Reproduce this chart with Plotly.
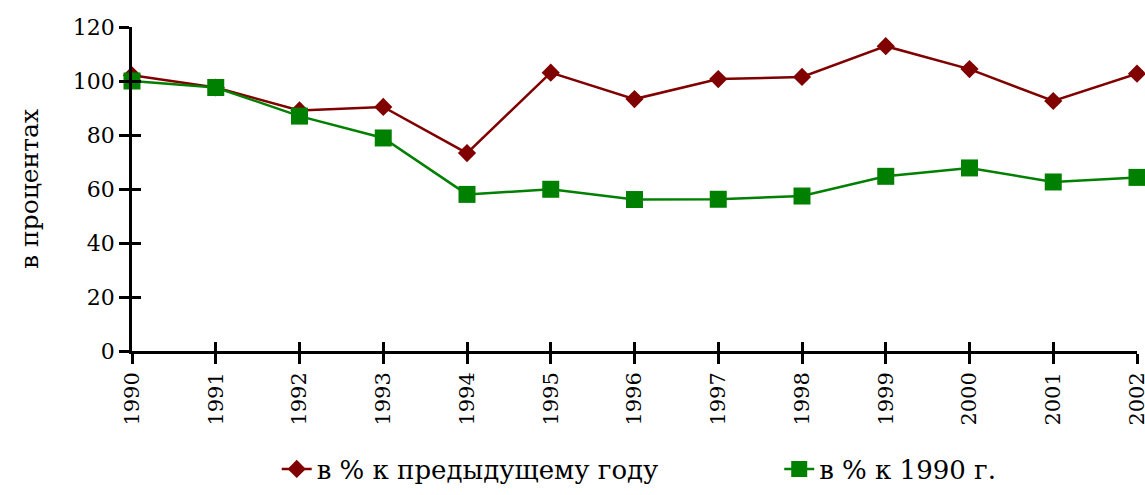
import plotly.graph_objects as go

years = [1990, 1991, 1992, 1993, 1994, 1995, 1996, 1997, 1998, 1999, 2000, 2001, 2002]
prev_year = [102.1, 97.6, 89.1, 90.4, 73.3, 103.1, 93.3, 100.7, 101.5, 112.9, 104.4, 92.6, 102.7]
to_1990 = [100.0, 97.6, 87.0, 78.9, 58.0, 59.9, 56.1, 56.2, 57.4, 64.7, 67.8, 62.6, 64.3]
name_prev = "в % к предыдущему году"
name_1990 = "в % к 1990 г."
y_title = "в процентах"
y_ticks = [0, 20, 40, 60, 80, 100, 120]

FONT = "DejaVu Serif"

fig = go.Figure()
fig.add_trace(go.Scatter(
    x=years, y=prev_year, name=name_prev, mode="lines+markers",
    line=dict(color="#800000", width=2.5),
    marker=dict(symbol="diamond", size=14, color="#800000"),
    cliponaxis=False, legend="legend",
))
fig.add_trace(go.Scatter(
    x=years, y=to_1990, name=name_1990, mode="lines+markers",
    line=dict(color="#008000", width=2.5),
    marker=dict(symbol="square", size=17, color="#008000"),
    cliponaxis=False, legend="legend2",
))
fig.add_trace(go.Scatter(x=[years[0]], y=[y_ticks[0]], xaxis="x2", yaxis="y2",
                         mode="markers", marker=dict(opacity=0), showlegend=False,
                         hoverinfo="skip"))

common_axis = dict(showgrid=False, zeroline=False, linecolor="black", linewidth=2.5,
                   tickcolor="black", tickwidth=2.5, ticklen=10, automargin=False)
legend_common = dict(orientation="h", xanchor="left", y=0.1, yref="container",
                     yanchor="top", font=dict(size=26), bgcolor="rgba(0,0,0,0)")

fig.update_layout(
    width=1145, height=495,
    margin=dict(l=132, r=8, t=27, b=144),
    paper_bgcolor="white", plot_bgcolor="white",
    font=dict(family=FONT, color="black", size=22),
    xaxis=dict(range=[years[0], years[-1]], tickmode="array", tickvals=years,
               ticktext=[str(y) for y in years], tickangle=-90, ticks="outside",
               showline=True, tickfont=dict(size=21),
               ticklabeloverflow="allow", **common_axis),
    yaxis=dict(range=[0, 120], tickmode="array", tickvals=y_ticks, ticks="outside",
               showline=True, tickfont=dict(size=22),
               title=dict(text=y_title, font=dict(size=25), standoff=28),
               **common_axis),
    xaxis2=dict(range=[years[0], years[-1]], overlaying="x", tickmode="array",
                tickvals=years, ticks="inside", showticklabels=False, showline=False,
                showgrid=False, zeroline=False, tickcolor="black", tickwidth=2.5, ticklen=9,
                automargin=False),
    yaxis2=dict(range=[0, 120], overlaying="y", tickmode="array", tickvals=y_ticks,
                ticks="inside", showticklabels=False, showline=False, showgrid=False,
                zeroline=False, tickcolor="black", tickwidth=2.5, ticklen=9,
                automargin=False),
    legend=dict(x=0.144, **legend_common),
    legend2=dict(x=0.644, **legend_common),
    showlegend=True,
)

fig.write_html("out.html", config={"displayModeBar": False},
               post_script="document.body.style.margin='0';")
